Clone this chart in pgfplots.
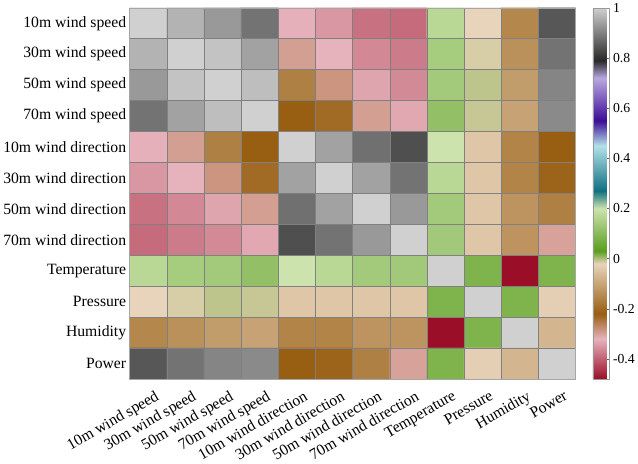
\documentclass[border=0pt]{standalone}
\usepackage{fontspec}
\setmainfont{Liberation Serif}
\usepackage{pgfplots}
\pgfplotsset{compat=1.18}
\pgfplotstableread{
x y c
0 0 1
1 0 0.964
2 0 0.931
3 0 0.884
4 0 -0.323
5 0 -0.347
6 0 -0.384
7 0 -0.39
8 0 0.171
9 0 -0.02
10 0 -0.15
11 0 0.849
0 1 0.964
1 1 1
2 1 0.984
3 1 0.942
4 1 -0.296
5 1 -0.32
6 1 -0.362
7 1 -0.374
8 1 0.143
9 1 -0.014
10 1 -0.134
11 1 0.884
0 2 0.931
1 2 0.984
2 2 1
3 2 0.978
4 2 -0.162
5 2 -0.285
6 2 -0.334
7 2 -0.36
8 2 0.139
9 2 -0.005
10 2 -0.114
11 2 0.906
0 3 0.884
1 3 0.942
2 3 0.978
3 3 1
4 3 -0.22
5 3 -0.198
6 3 -0.296
7 3 -0.331
8 3 0.115
9 3 -0.008
10 3 -0.104
11 3 0.913
0 4 -0.323
1 4 -0.296
2 4 -0.162
3 4 -0.22
4 4 1
5 4 0.942
6 4 0.880
7 4 0.839
8 4 0.20
9 4 -0.044
10 4 -0.156
11 4 -0.219
0 5 -0.347
1 5 -0.32
2 5 -0.285
3 5 -0.198
4 5 0.942
5 5 1
6 5 0.942
7 5 0.884
8 5 0.171
9 5 -0.044
10 5 -0.156
11 5 -0.21
0 6 -0.384
1 6 -0.362
2 6 -0.334
3 6 -0.296
4 6 0.880
5 6 0.942
6 6 1
7 6 0.931
8 6 0.139
9 6 -0.044
10 6 -0.128
11 6 -0.162
0 7 -0.39
1 7 -0.374
2 7 -0.36
3 7 -0.331
4 7 0.839
5 7 0.884
6 7 0.931
7 7 1
8 7 0.137
9 7 -0.044
10 7 -0.128
11 7 -0.30
0 8 0.171
1 8 0.143
2 8 0.139
3 8 0.115
4 8 0.20
5 8 0.171
6 8 0.139
7 8 0.137
8 8 1
9 8 0.083
10 8 -0.48
11 8 0.083
0 9 -0.02
1 9 -0.014
2 9 -0.005
3 9 -0.008
4 9 -0.044
5 9 -0.044
6 9 -0.044
7 9 -0.044
8 9 0.083
9 9 1
10 9 0.083
11 9 -0.028
0 10 -0.15
1 10 -0.134
2 10 -0.114
3 10 -0.104
4 10 -0.156
5 10 -0.156
6 10 -0.128
7 10 -0.128
8 10 -0.48
9 10 0.083
10 10 1
11 10 -0.072
0 11 0.849
1 11 0.884
2 11 0.906
3 11 0.913
4 11 -0.219
5 11 -0.21
6 11 -0.162
7 11 -0.30
8 11 0.083
9 11 -0.028
10 11 -0.072
11 11 1
}\corrtable
\begin{document}
\begin{tikzpicture}
\begin{axis}[
  scale only axis, width=453bp, height=377bp,
  xmin=-0.5, xmax=11.5, ymin=-0.5, ymax=11.5,
  y dir=reverse,
  xtick={0,...,11}, ytick={0,...,11},
  xticklabels={10m wind speed,30m wind speed,50m wind speed,70m wind speed,10m wind direction,30m wind direction,50m wind direction,70m wind direction,Temperature,Pressure,Humidity,Power},
  yticklabels={10m wind speed,30m wind speed,50m wind speed,70m wind speed,10m wind direction,30m wind direction,50m wind direction,70m wind direction,Temperature,Pressure,Humidity,Power},
  major tick length=0pt, minor tick length=0pt,
  minor xtick={-0.5,0.5,...,11.5}, minor ytick={-0.5,0.5,...,11.5},
  xminorgrids, yminorgrids,
  minor grid style={black!50, line width=0.5pt},
  axis line style={black!35},
  axis on top,
  tick label style={font=\fontsize{16}{16}\selectfont},
  xticklabel style={xshift=7bp, yshift=-8bp, rotate=30, anchor=north east, inner sep=2pt},
  colormap={corr}{rgb255(0pt)=(154,14,40); rgb255(16pt)=(230,179,188); rgb255(26pt)=(152,94,18); rgb255(46pt)=(232,212,187); rgb255(51pt)=(90,158,30); rgb255(68pt)=(204,227,174); rgb255(75pt)=(15,112,130); rgb255(93pt)=(178,225,232); rgb255(103pt)=(60,12,150); rgb255(120pt)=(185,168,225); rgb255(127pt)=(40,40,40); rgb255(148pt)=(208,208,208)},
  point meta min=-0.48, point meta max=1,
  colorbar,
  colorbar style={
    at={(parent axis.north east)}, anchor=north west, xshift=9bp,
    width=17bp,
    ytick={-0.4,-0.2,0,0.2,0.4,0.6,0.8,1},
    yticklabel style={font=\fontsize{14}{14}\selectfont, /pgf/number format/assume math mode=true},
    axis line style={black!40},
    major tick length=3bp, tick align=inside, ytick pos=right,
    major tick style={black!60},
  },
]
\addplot[matrix plot*, mesh/cols=12, point meta=explicit] table[x=x, y=y, meta=c] {\corrtable};
\end{axis}
\end{tikzpicture}
\end{document}
